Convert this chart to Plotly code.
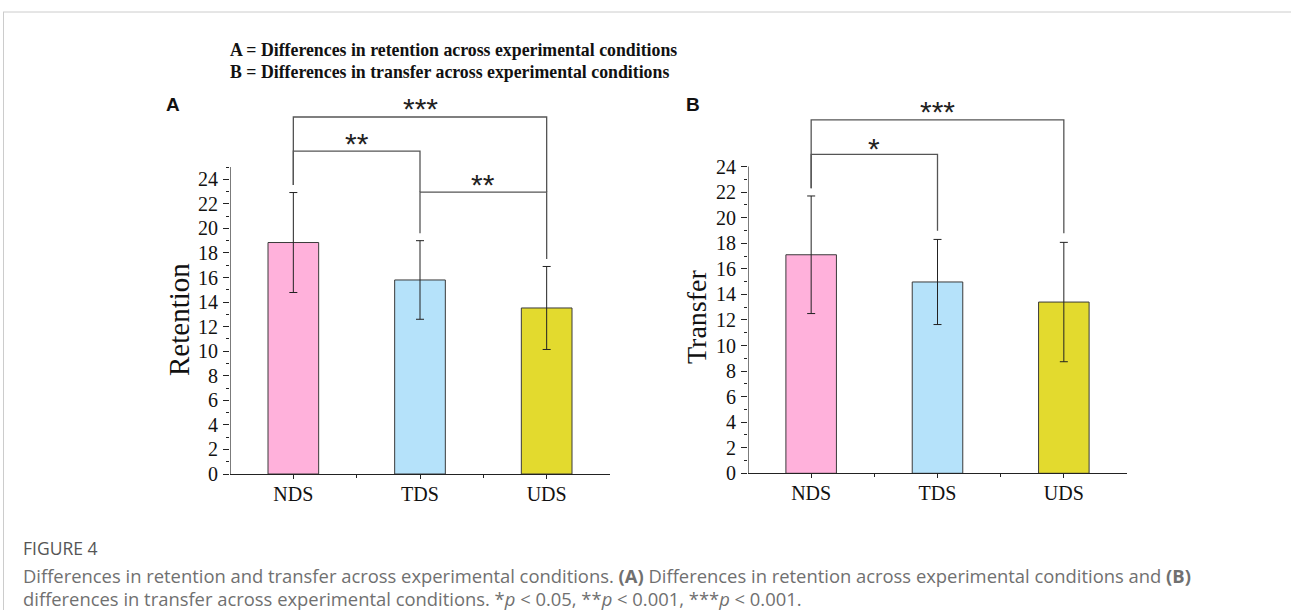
import plotly.graph_objects as go

W, H = 1291, 610

categories = ["NDS", "TDS", "UDS"]
bar_colors = ["#FFB1DB", "#B5E2FA", "#E3DA2E"]

retention_mean = [18.85, 15.8, 13.52]
retention_sd = [4.07, 3.2, 3.38]
transfer_mean = [17.1, 14.97, 13.4]
transfer_sd = [4.6, 3.33, 4.67]

# significance brackets: (left idx, right idx, top y, left foot y, right foot y, label, label y)
brackets_a = [
    (0, 2, 29.07, 23.53, 22.96, "***", 30.3),
    (0, 1, 26.3, 23.53, 22.96, "**", 27.45),
    (1, 2, 22.96, 19.6, 17.5, "**", 24.15),
]
brackets_b = [
    (0, 2, 27.66, 22.3, 18.78, "***", 28.85),
    (0, 1, 24.96, 22.3, 18.98, "*", 26.0),
]

yticks = list(range(0, 25, 2))
minor_a = list(range(1, 26, 2))
minor_b = list(range(1, 24, 2))

def px_x(p):
    return p / W

def px_y(p):
    return 1 - p / H

fig = go.Figure()

panels = [
    ("x", "y", retention_mean, retention_sd, brackets_a, 25),
    ("x2", "y2", transfer_mean, transfer_sd, brackets_b, 24),
]

for xa, ya, means, sds, brackets, ytop in panels:
    fig.add_trace(go.Bar(
        x=[0, 1, 2], y=means, width=0.4,
        marker=dict(color=bar_colors, line=dict(color="#3a3a3a", width=1)),
        error_y=dict(type="data", array=sds, visible=True, color="#222222",
                     thickness=1, width=4),
        xaxis=xa, yaxis=ya, showlegend=False, hoverinfo="skip",
    ))
    for (i, j, top, yl, yr, label, ly) in brackets:
        fig.add_trace(go.Scatter(
            x=[i, i, j, j], y=[yl, top, top, yr], mode="lines",
            line=dict(color="#555555", width=1.3),
            xaxis=xa, yaxis=ya, showlegend=False, hoverinfo="skip",
        ))
        fig.add_annotation(x=(i + j) / 2, y=ly, xref=xa, yref=ya, text=label,
                           showarrow=False, xanchor="center", yanchor="middle",
                           yshift=-7,
                           font=dict(family="Liberation Sans", size=30, color="#222"))
    # y axis line only up to ytop
    fig.add_shape(type="line", x0=-0.5, x1=-0.5, y0=0, y1=ytop,
                  xref=xa, yref=ya, line=dict(color="#222", width=1.2))

tick_font = dict(family="Liberation Serif", size=20, color="#111")

common_x = dict(range=[-0.5, 2.5], tickvals=[0, 1, 2], ticktext=categories,
                ticks="outside", ticklen=4, tickcolor="#222", showline=True,
                linecolor="#222", linewidth=1.2, showgrid=False, zeroline=False,
                tickfont=tick_font, fixedrange=True, automargin=False,
                ticklabelstandoff=-2,
                minor=dict(tickvals=[0.5, 1.5], ticks="outside", ticklen=3,
                           tickcolor="#222", showgrid=False))

common_y = dict(range=[0, 31], tickvals=yticks, ticks="outside", ticklen=6,
                tickcolor="#222", showline=False, showgrid=False, zeroline=False,
                tickfont=tick_font, ticklabelstandoff=1, automargin=False,
                fixedrange=True)

fig.update_layout(
    template="none",
    width=W, height=H, autosize=False,
    margin=dict(l=0, r=0, t=0, b=0, pad=0, autoexpand=False),
    paper_bgcolor="white", plot_bgcolor="rgba(0,0,0,0)",
    showlegend=False,
    xaxis=dict(domain=[px_x(230), px_x(610)], anchor="y", **common_x),
    xaxis2=dict(domain=[px_x(748), px_x(1127)], anchor="y2", **common_x),
    yaxis=dict(domain=[px_y(474), px_y(474 - 31 * 12.28)], anchor="x",
               minor=dict(tickvals=minor_a, ticks="outside", ticklen=3,
                          tickcolor="#222", showgrid=False), **common_y),
    yaxis2=dict(domain=[px_y(473.3), px_y(473.3 - 31 * 12.78)], anchor="x2",
                minor=dict(tickvals=minor_b, ticks="outside", ticklen=3,
                           tickcolor="#222", showgrid=False), **common_y),
)

def note(x, y, text, font, xanchor="center", yanchor="middle", angle=0):
    fig.add_annotation(x=px_x(x), y=px_y(y), xref="paper", yref="paper",
                       xanchor=xanchor, yanchor=yanchor, textangle=angle,
                       showarrow=False, text=text, font=font)

# axis titles
note(179, 320, "Retention", dict(family="Liberation Serif", size=29, color="#111"), angle=-90)
note(696, 317, "Transfer", dict(family="Liberation Serif", size=28, color="#111"), angle=-90)

# header lines
hdr_font = dict(family="Liberation Serif", size=17.8, color="#111")
note(228, 50, "<b>A = Differences in retention across experimental conditions</b>", hdr_font, xanchor="left")
note(228, 72, "<b>B = Differences in transfer across experimental conditions</b>", hdr_font, xanchor="left")

# panel letters
let_font = dict(family="Liberation Sans", size=19, color="#111")
note(173, 104, "<b>A</b>", let_font)
note(693, 104, "<b>B</b>", let_font)

# caption
cap_font = dict(family="Open Sans", size=18.4, color="#707070")
note(21, 548, "FIGURE 4", dict(family="Open Sans", size=17.5, color="#555555"), xanchor="left")
note(21, 575, "Differences in retention and transfer across experimental conditions. "
              "<b>(A)</b> Differences in retention across experimental conditions and <b>(B)</b>",
     cap_font, xanchor="left")
note(21, 598, "differences in transfer across experimental conditions. "
              "*<i>p</i> &lt; 0.05, **<i>p</i> &lt; 0.001, ***<i>p</i> &lt; 0.001.",
     cap_font, xanchor="left")

# card frame
fig.add_shape(type="line", xref="paper", yref="paper",
              x0=px_x(3), x1=1, y0=px_y(12), y1=px_y(12),
              line=dict(color="#cccccc", width=1))
fig.add_shape(type="line", xref="paper", yref="paper",
              x0=px_x(3.5), x1=px_x(3.5), y0=px_y(12), y1=0,
              line=dict(color="#cccccc", width=1))

post = (
    "document.documentElement.style.overflow='hidden';"
    "document.body.style.margin='0';document.body.style.overflow='hidden';"
    "var gd=document.getElementById('{plot_id}');"
    "gd.style.position='fixed';gd.style.top='0px';gd.style.left='0px';"
)

fig.write_html("out.html", post_script=post,
               config={"displayModeBar": False})
